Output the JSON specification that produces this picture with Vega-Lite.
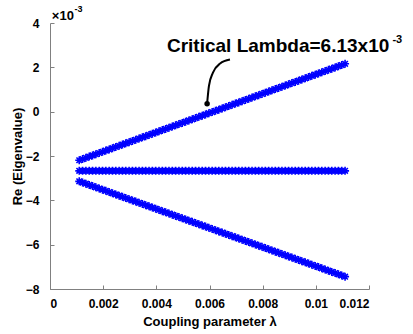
{
  "$schema": "https://vega.github.io/schema/vega-lite/v6.json",
  "width": 319,
  "height": 266,
  "autosize": "none",
  "padding": {"left": 50, "top": 23, "right": 44, "bottom": 45},
  "background": "white",
  "config": {
    "view": {"stroke": null},
    "axis": {"domainColor": "#808080", "tickColor": "#808080", "grid": false, "labelFont": "Liberation Sans", "labelFontWeight": "bold", "labelFontSize": 12, "labelColor": "#000", "titleFont": "Liberation Sans", "titleFontWeight": "bold", "titleFontSize": 13, "titleColor": "#000", "tickSize": -4}
  },
  "datasets": {
    "pts": [
      {"x":0.0011,"s":"u","y":-2.192},{"x":0.001225,"s":"u","y":-2.137},{"x":0.00135,"s":"u","y":-2.083},{"x":0.001475,"s":"u","y":-2.028},{"x":0.0016,"s":"u","y":-1.974},{"x":0.001725,"s":"u","y":-1.92},{"x":0.00185,"s":"u","y":-1.865},{"x":0.001975,"s":"u","y":-1.811},{"x":0.0021,"s":"u","y":-1.757},{"x":0.002225,"s":"u","y":-1.702},{"x":0.00235,"s":"u","y":-1.648},{"x":0.002475,"s":"u","y":-1.593},{"x":0.0026,"s":"u","y":-1.539},{"x":0.002725,"s":"u","y":-1.485},{"x":0.00285,"s":"u","y":-1.43},{"x":0.002975,"s":"u","y":-1.376},{"x":0.0031,"s":"u","y":-1.322},{"x":0.003225,"s":"u","y":-1.267},{"x":0.00335,"s":"u","y":-1.213},{"x":0.003475,"s":"u","y":-1.158},{"x":0.0036,"s":"u","y":-1.104},{"x":0.003725,"s":"u","y":-1.05},{"x":0.00385,"s":"u","y":-0.995},{"x":0.003975,"s":"u","y":-0.941},{"x":0.0041,"s":"u","y":-0.887},{"x":0.004225,"s":"u","y":-0.832},{"x":0.00435,"s":"u","y":-0.778},{"x":0.004475,"s":"u","y":-0.723},{"x":0.0046,"s":"u","y":-0.669},{"x":0.004725,"s":"u","y":-0.615},{"x":0.00485,"s":"u","y":-0.56},{"x":0.004975,"s":"u","y":-0.506},{"x":0.0051,"s":"u","y":-0.452},{"x":0.005225,"s":"u","y":-0.397},{"x":0.00535,"s":"u","y":-0.343},{"x":0.005475,"s":"u","y":-0.288},{"x":0.0056,"s":"u","y":-0.234},{"x":0.005725,"s":"u","y":-0.18},{"x":0.00585,"s":"u","y":-0.125},{"x":0.005975,"s":"u","y":-0.071},{"x":0.0061,"s":"u","y":-0.017},{"x":0.006225,"s":"u","y":0.038},{"x":0.00635,"s":"u","y":0.092},{"x":0.006475,"s":"u","y":0.147},{"x":0.0066,"s":"u","y":0.201},{"x":0.006725,"s":"u","y":0.255},{"x":0.00685,"s":"u","y":0.31},{"x":0.006975,"s":"u","y":0.364},{"x":0.0071,"s":"u","y":0.419},{"x":0.007225,"s":"u","y":0.473},{"x":0.00735,"s":"u","y":0.527},{"x":0.007475,"s":"u","y":0.582},{"x":0.0076,"s":"u","y":0.636},{"x":0.007725,"s":"u","y":0.69},{"x":0.00785,"s":"u","y":0.745},{"x":0.007975,"s":"u","y":0.799},{"x":0.0081,"s":"u","y":0.854},{"x":0.008225,"s":"u","y":0.908},{"x":0.00835,"s":"u","y":0.962},{"x":0.008475,"s":"u","y":1.017},{"x":0.0086,"s":"u","y":1.071},{"x":0.008725,"s":"u","y":1.125},{"x":0.00885,"s":"u","y":1.18},{"x":0.008975,"s":"u","y":1.234},{"x":0.0091,"s":"u","y":1.289},{"x":0.009225,"s":"u","y":1.343},{"x":0.00935,"s":"u","y":1.397},{"x":0.009475,"s":"u","y":1.452},{"x":0.0096,"s":"u","y":1.506},{"x":0.009725,"s":"u","y":1.56},{"x":0.00985,"s":"u","y":1.615},{"x":0.009975,"s":"u","y":1.669},{"x":0.0101,"s":"u","y":1.724},{"x":0.010225,"s":"u","y":1.778},{"x":0.01035,"s":"u","y":1.832},{"x":0.010475,"s":"u","y":1.887},{"x":0.0106,"s":"u","y":1.941},{"x":0.010725,"s":"u","y":1.995},{"x":0.01085,"s":"u","y":2.05},{"x":0.010975,"s":"u","y":2.104},{"x":0.0111,"s":"u","y":2.159},
      {"x":0.0011,"s":"m","y":-2.67},{"x":0.001225,"s":"m","y":-2.67},{"x":0.00135,"s":"m","y":-2.67},{"x":0.001475,"s":"m","y":-2.67},{"x":0.0016,"s":"m","y":-2.67},{"x":0.001725,"s":"m","y":-2.67},{"x":0.00185,"s":"m","y":-2.67},{"x":0.001975,"s":"m","y":-2.67},{"x":0.0021,"s":"m","y":-2.67},{"x":0.002225,"s":"m","y":-2.67},{"x":0.00235,"s":"m","y":-2.67},{"x":0.002475,"s":"m","y":-2.67},{"x":0.0026,"s":"m","y":-2.67},{"x":0.002725,"s":"m","y":-2.67},{"x":0.00285,"s":"m","y":-2.67},{"x":0.002975,"s":"m","y":-2.67},{"x":0.0031,"s":"m","y":-2.67},{"x":0.003225,"s":"m","y":-2.67},{"x":0.00335,"s":"m","y":-2.67},{"x":0.003475,"s":"m","y":-2.67},{"x":0.0036,"s":"m","y":-2.67},{"x":0.003725,"s":"m","y":-2.67},{"x":0.00385,"s":"m","y":-2.67},{"x":0.003975,"s":"m","y":-2.67},{"x":0.0041,"s":"m","y":-2.67},{"x":0.004225,"s":"m","y":-2.67},{"x":0.00435,"s":"m","y":-2.67},{"x":0.004475,"s":"m","y":-2.67},{"x":0.0046,"s":"m","y":-2.67},{"x":0.004725,"s":"m","y":-2.67},{"x":0.00485,"s":"m","y":-2.67},{"x":0.004975,"s":"m","y":-2.67},{"x":0.0051,"s":"m","y":-2.67},{"x":0.005225,"s":"m","y":-2.67},{"x":0.00535,"s":"m","y":-2.67},{"x":0.005475,"s":"m","y":-2.67},{"x":0.0056,"s":"m","y":-2.67},{"x":0.005725,"s":"m","y":-2.67},{"x":0.00585,"s":"m","y":-2.67},{"x":0.005975,"s":"m","y":-2.67},{"x":0.0061,"s":"m","y":-2.67},{"x":0.006225,"s":"m","y":-2.67},{"x":0.00635,"s":"m","y":-2.67},{"x":0.006475,"s":"m","y":-2.67},{"x":0.0066,"s":"m","y":-2.67},{"x":0.006725,"s":"m","y":-2.67},{"x":0.00685,"s":"m","y":-2.67},{"x":0.006975,"s":"m","y":-2.67},{"x":0.0071,"s":"m","y":-2.67},{"x":0.007225,"s":"m","y":-2.67},{"x":0.00735,"s":"m","y":-2.67},{"x":0.007475,"s":"m","y":-2.67},{"x":0.0076,"s":"m","y":-2.67},{"x":0.007725,"s":"m","y":-2.67},{"x":0.00785,"s":"m","y":-2.67},{"x":0.007975,"s":"m","y":-2.67},{"x":0.0081,"s":"m","y":-2.67},{"x":0.008225,"s":"m","y":-2.67},{"x":0.00835,"s":"m","y":-2.67},{"x":0.008475,"s":"m","y":-2.67},{"x":0.0086,"s":"m","y":-2.67},{"x":0.008725,"s":"m","y":-2.67},{"x":0.00885,"s":"m","y":-2.67},{"x":0.008975,"s":"m","y":-2.67},{"x":0.0091,"s":"m","y":-2.67},{"x":0.009225,"s":"m","y":-2.67},{"x":0.00935,"s":"m","y":-2.67},{"x":0.009475,"s":"m","y":-2.67},{"x":0.0096,"s":"m","y":-2.67},{"x":0.009725,"s":"m","y":-2.67},{"x":0.00985,"s":"m","y":-2.67},{"x":0.009975,"s":"m","y":-2.67},{"x":0.0101,"s":"m","y":-2.67},{"x":0.010225,"s":"m","y":-2.67},{"x":0.01035,"s":"m","y":-2.67},{"x":0.010475,"s":"m","y":-2.67},{"x":0.0106,"s":"m","y":-2.67},{"x":0.010725,"s":"m","y":-2.67},{"x":0.01085,"s":"m","y":-2.67},{"x":0.010975,"s":"m","y":-2.67},{"x":0.0111,"s":"m","y":-2.67},
      {"x":0.0011,"s":"l","y":-3.143},{"x":0.001225,"s":"l","y":-3.197},{"x":0.00135,"s":"l","y":-3.251},{"x":0.001475,"s":"l","y":-3.304},{"x":0.0016,"s":"l","y":-3.358},{"x":0.001725,"s":"l","y":-3.412},{"x":0.00185,"s":"l","y":-3.466},{"x":0.001975,"s":"l","y":-3.519},{"x":0.0021,"s":"l","y":-3.573},{"x":0.002225,"s":"l","y":-3.627},{"x":0.00235,"s":"l","y":-3.681},{"x":0.002475,"s":"l","y":-3.734},{"x":0.0026,"s":"l","y":-3.788},{"x":0.002725,"s":"l","y":-3.842},{"x":0.00285,"s":"l","y":-3.896},{"x":0.002975,"s":"l","y":-3.949},{"x":0.0031,"s":"l","y":-4.003},{"x":0.003225,"s":"l","y":-4.057},{"x":0.00335,"s":"l","y":-4.111},{"x":0.003475,"s":"l","y":-4.164},{"x":0.0036,"s":"l","y":-4.218},{"x":0.003725,"s":"l","y":-4.272},{"x":0.00385,"s":"l","y":-4.326},{"x":0.003975,"s":"l","y":-4.379},{"x":0.0041,"s":"l","y":-4.433},{"x":0.004225,"s":"l","y":-4.487},{"x":0.00435,"s":"l","y":-4.541},{"x":0.004475,"s":"l","y":-4.594},{"x":0.0046,"s":"l","y":-4.648},{"x":0.004725,"s":"l","y":-4.702},{"x":0.00485,"s":"l","y":-4.756},{"x":0.004975,"s":"l","y":-4.809},{"x":0.0051,"s":"l","y":-4.863},{"x":0.005225,"s":"l","y":-4.917},{"x":0.00535,"s":"l","y":-4.971},{"x":0.005475,"s":"l","y":-5.024},{"x":0.0056,"s":"l","y":-5.078},{"x":0.005725,"s":"l","y":-5.132},{"x":0.00585,"s":"l","y":-5.186},{"x":0.005975,"s":"l","y":-5.239},{"x":0.0061,"s":"l","y":-5.293},{"x":0.006225,"s":"l","y":-5.347},{"x":0.00635,"s":"l","y":-5.401},{"x":0.006475,"s":"l","y":-5.454},{"x":0.0066,"s":"l","y":-5.508},{"x":0.006725,"s":"l","y":-5.562},{"x":0.00685,"s":"l","y":-5.616},{"x":0.006975,"s":"l","y":-5.669},{"x":0.0071,"s":"l","y":-5.723},{"x":0.007225,"s":"l","y":-5.777},{"x":0.00735,"s":"l","y":-5.831},{"x":0.007475,"s":"l","y":-5.884},{"x":0.0076,"s":"l","y":-5.938},{"x":0.007725,"s":"l","y":-5.992},{"x":0.00785,"s":"l","y":-6.046},{"x":0.007975,"s":"l","y":-6.099},{"x":0.0081,"s":"l","y":-6.153},{"x":0.008225,"s":"l","y":-6.207},{"x":0.00835,"s":"l","y":-6.261},{"x":0.008475,"s":"l","y":-6.314},{"x":0.0086,"s":"l","y":-6.368},{"x":0.008725,"s":"l","y":-6.422},{"x":0.00885,"s":"l","y":-6.476},{"x":0.008975,"s":"l","y":-6.529},{"x":0.0091,"s":"l","y":-6.583},{"x":0.009225,"s":"l","y":-6.637},{"x":0.00935,"s":"l","y":-6.691},{"x":0.009475,"s":"l","y":-6.744},{"x":0.0096,"s":"l","y":-6.798},{"x":0.009725,"s":"l","y":-6.852},{"x":0.00985,"s":"l","y":-6.906},{"x":0.009975,"s":"l","y":-6.959},{"x":0.0101,"s":"l","y":-7.013},{"x":0.010225,"s":"l","y":-7.067},{"x":0.01035,"s":"l","y":-7.121},{"x":0.010475,"s":"l","y":-7.174},{"x":0.0106,"s":"l","y":-7.228},{"x":0.010725,"s":"l","y":-7.282},{"x":0.01085,"s":"l","y":-7.336},{"x":0.010975,"s":"l","y":-7.389},{"x":0.0111,"s":"l","y":-7.443}
    ],
    "curve": [
      {"x":0.00591,"y":0.36},{"x":0.00598,"y":1.17},{"x":0.00613,"y":1.76},{"x":0.0064,"y":2.17},{"x":0.00677,"y":2.35}
    ],
    "dot": [{"x":0.00591,"y":0.36}],
    "ann": [{"x":0.0044,"y":2.98,"t":"Critical Lambda=6.13x10"}],
    "annsup": [{"x":0.01288,"y":3.25,"t":"-3"}],
    "mult": [{"x":0.00007,"y":4.33,"t":"×10"}],
    "multsup": [{"x":0.00092,"y":4.62,"t":"-3"}]
  },
  "layer": [
    {
      "data": {"name": "pts"},
      "mark": {"type": "point", "shape": "M-1,0L1,0M0,-1L0,1M-0.7,-0.7L0.7,0.7M-0.7,0.7L0.7,-0.7", "filled": false, "stroke": "#0000FF", "strokeWidth": 1.6, "size": 64, "opacity": 1},
      "encoding": {
        "x": {"field": "x", "type": "quantitative", "scale": {"domain": [0, 0.012], "nice": false, "zero": false}, "axis": {"values": [0, 0.002, 0.004, 0.006, 0.008, 0.01, 0.012], "format": "~g", "title": "Coupling parameter λ", "labelPadding": 13, "titlePadding": 6}},
        "y": {"field": "y", "type": "quantitative", "scale": {"domain": [-8, 4], "nice": false, "zero": false}, "axis": {"values": [-8, -6, -4, -2, 0, 2, 4], "title": "Re (Eigenvalue)", "labelPadding": 15, "titlePadding": 1}},
        "detail": {"field": "s"}
      }
    },
    {
      "data": {"name": "curve"},
      "mark": {"type": "line", "color": "#000", "strokeWidth": 2, "interpolate": "monotone"},
      "encoding": {"x": {"field": "x", "type": "quantitative"}, "y": {"field": "y", "type": "quantitative"}}
    },
    {
      "data": {"name": "dot"},
      "mark": {"type": "circle", "color": "#000", "size": 30, "opacity": 1},
      "encoding": {"x": {"field": "x", "type": "quantitative"}, "y": {"field": "y", "type": "quantitative"}}
    },
    {
      "data": {"name": "ann"},
      "mark": {"type": "text", "align": "left", "baseline": "middle", "font": "Liberation Sans", "fontWeight": "bold", "fontSize": 19, "color": "#000"},
      "encoding": {"x": {"field": "x", "type": "quantitative"}, "y": {"field": "y", "type": "quantitative"}, "text": {"field": "t"}}
    },
    {
      "data": {"name": "annsup"},
      "mark": {"type": "text", "align": "left", "baseline": "middle", "font": "Liberation Sans", "fontWeight": "bold", "fontSize": 11, "color": "#000"},
      "encoding": {"x": {"field": "x", "type": "quantitative"}, "y": {"field": "y", "type": "quantitative"}, "text": {"field": "t"}}
    },
    {
      "data": {"name": "mult"},
      "mark": {"type": "text", "align": "left", "baseline": "middle", "font": "Liberation Sans", "fontWeight": "bold", "fontSize": 13, "color": "#000"},
      "encoding": {"x": {"field": "x", "type": "quantitative"}, "y": {"field": "y", "type": "quantitative"}, "text": {"field": "t"}}
    },
    {
      "data": {"name": "multsup"},
      "mark": {"type": "text", "align": "left", "baseline": "middle", "font": "Liberation Sans", "fontWeight": "bold", "fontSize": 9, "color": "#000"},
      "encoding": {"x": {"field": "x", "type": "quantitative"}, "y": {"field": "y", "type": "quantitative"}, "text": {"field": "t"}}
    }
  ]
}
